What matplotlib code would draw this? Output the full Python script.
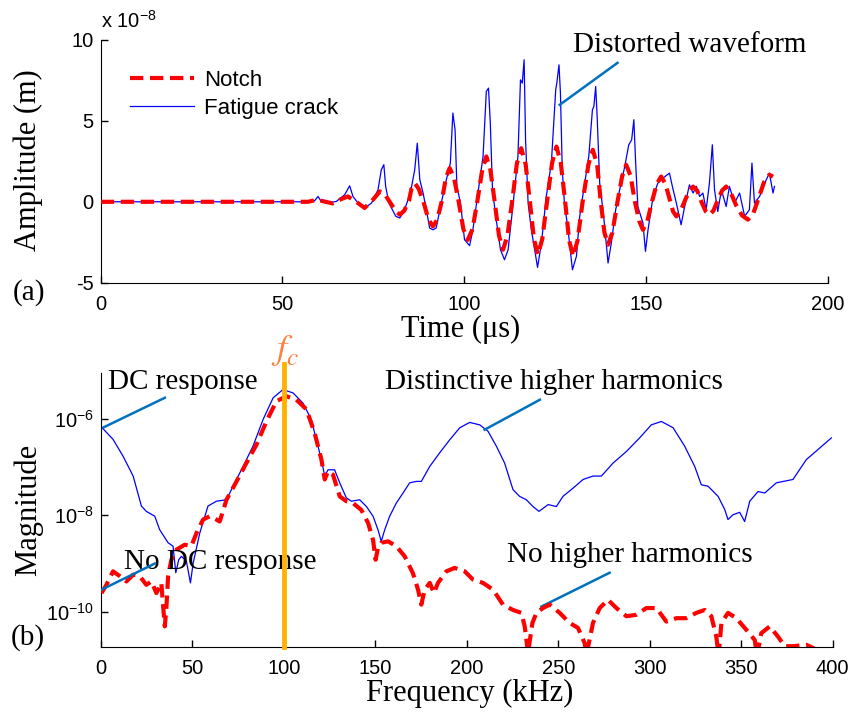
import matplotlib
matplotlib.use('Agg')
import matplotlib.pyplot as plt
import numpy as np

plt.rcParams['font.family'] = ['Liberation Sans', 'DejaVu Sans']
plt.rcParams['mathtext.default'] = 'regular'
plt.rcParams['axes.unicode_minus'] = False

# ---------------- (a) time signals (amplitude in units of 1e-8 m)
time_ticks = [0, 50, 100, 150, 200]
amp_ticks = [-5, 0, 5, 10]

notch_t = [0, 57.0, 59.5, 61.5, 63.8, 66.0, 68.0, 70.3, 72.6, 74.8,
           76.8, 78.2, 79.5, 81.1, 82.3, 83.5, 84.8, 85.5, 86.4, 87.5,
           88.8, 90.2, 91.4, 92.6, 93.8, 95.0, 96.0, 97.2, 98.5, 99.8,
           101.0, 102.3, 103.6, 105.0, 106.1, 107.2, 108.4, 109.6, 110.7, 111.9,
           113.2, 114.5, 115.7, 116.9, 118.1, 119.2, 120.3, 121.5, 122.8, 124.2,
           125.4, 126.6, 127.8, 128.9, 130.0, 131.2, 132.6, 134.2, 135.4, 136.6,
           137.6, 138.6, 139.6, 140.8, 142.2, 143.5, 144.6, 145.8, 147.0, 148.2,
           149.2, 150.4, 151.8, 153.0, 154.2, 155.4, 156.5, 157.5, 158.4, 159.5,
           160.8, 162.0, 163.0, 164.1, 165.3, 166.5, 167.5, 168.6, 169.8, 171.0,
           172.1, 173.3, 174.8, 176.5, 178.1, 179.6, 181.0, 182.5, 184.0, 185.0]
notch_amp = [0, 0, 0.12, 0.02, -0.1, 0.15, 0.33, 0.0, -0.38, 0.1,
             0.64, 0.45, 0.0, -0.55, -0.8, -0.55, 0.05, 0.8, 1.15, 0.8,
             0.0, -1.1, -1.52, -1.1, 0.0, 1.5, 2.08, 1.5, 0.0, -1.7,
             -2.35, -1.7, 0.0, 2.0, 2.8, 2.0, 0.0, -2.1, -2.96, -2.1,
             0.0, 2.35, 3.31, 2.35, 0.0, -2.3, -3.27, -2.3, 0.0, 2.4,
             3.41, 2.4, 0.0, -2.4, -3.37, -2.4, 0.0, 2.3, 3.21, 2.3,
             0.0, -1.9, -2.65, -1.9, 0.0, 1.6, 2.28, 1.6, 0.0, -1.2,
             -1.73, -1.2, 0.1, 1.1, 1.56, 1.1, 0.2, -0.6, -0.9, -0.6,
             0.1, 0.7, 0.94, 0.7, 0.0, -0.6, -0.8, -0.55, 0.1, 0.7,
             0.94, 0.6, -0.2, -0.85, -1.1, -0.7, 0.2, 1.2, 1.67, 1.55]

crack_t = [0, 57.5, 58.8, 59.8, 60.7, 62.1, 64.8, 67.1, 68.5, 69.4,
           70.8, 72.6, 74.5, 76.3, 77.2, 77.9, 78.4, 79.3, 81.2, 82.3,
           83.6, 85.2, 86.4, 87.1, 87.8, 88.7, 89.6, 90.5, 91.4, 92.3,
           93.7, 95.1, 96.2, 96.9, 97.5, 98.0, 99.0, 100.1, 101.5, 102.4,
           103.8, 105.2, 106.1, 106.7, 107.2, 107.8, 108.7, 110.0, 111.1, 112.1,
           113.4, 114.8, 115.5, 116.0, 116.5, 116.9, 117.6, 118.5, 120.2, 121.3,
           122.6, 124.0, 125.2, 125.5, 126.1, 126.5, 127.0, 127.6, 128.6, 129.8,
           130.9, 131.8, 132.9, 134.3, 135.3, 135.7, 136.2, 136.6, 137.3, 138.4,
           139.6, 140.5, 141.7, 142.8, 144.2, 145.3, 146.1, 146.7, 147.2, 147.8,
           149.2, 149.9, 150.6, 152.0, 153.3, 154.7, 156.5, 157.3, 158.4, 159.7,
           160.7, 162.0, 163.0, 163.9, 164.8, 165.7, 166.6, 167.5, 168.3, 168.9,
           169.8, 170.8, 172.1, 173.0, 174.4, 175.8, 177.2, 178.5, 179.2, 179.9,
           181.3, 182.7, 184.0, 185.0, 185.4]
crack_amp = [0, 0, 0.05, 0.33, 0.0, -0.08, 0.02, 0.43, 0.99, 0.33,
             -0.08, -0.39, -0.08, 0.74, 1.98, 2.29, 0.95, -0.08, -0.9, -1.0,
             -0.49, 0.54, 1.98, 3.62, 1.36, 0.54, -0.49, -1.62, -1.73, -1.62,
             -0.08, 1.36, 2.39, 5.48, 4.45, 0.95, -0.08, -2.34, -2.71, -1.73,
             0.54, 2.8, 6.81, 7.02, 4.86, 0.74, -0.9, -2.96, -3.58, -2.96,
             -0.29, 2.8, 7.53, 7.33, 8.77, 3.83, -0.08, -1.73, -4.05, -2.5,
             0.33, 2.39, 6.92, 7.33, 8.46, 6.71, 1.98, -0.08, -1.73, -4.2,
             -3.37, -0.9, 0.74, 2.8, 5.68, 5.89, 7.12, 5.27, 1.15, -0.9,
             -3.78, -2.55, -0.49, 0.74, 2.18, 3.52, 3.83, 5.07, 2.39, -0.29,
             -1.31, -3.06, -1.73, 0.33, 1.15, 1.46, 1.77, 0.95, -0.08, -1.42,
             -0.28, 1.05, 0.54, 0.95, 0.33, 0.54, -0.49, 1.15, 3.52, 0.74,
             -0.6, 0.74, -0.29, 0.95, -0.08, 0.54, -0.9, -0.49, 2.39, -0.08,
             0.33, 1.15, 1.77, 0.54, 0.95]

# ---------------- (b) spectra (log10 of magnitude)
freq_ticks = [0, 50, 100, 150, 200, 250, 300, 350, 400]
mag_ticks = [1e-10, 1e-8, 1e-6]
fc = 100

crack_f = [0, 6.7, 12.2, 17.7, 22.2, 24.9, 29.5, 32.2, 36.8, 39.5,
           41.0, 42.6, 44.1, 46.8, 49.0, 50.5, 54.1, 58.6, 63.2, 68.7,
           72.3, 77.8, 83.2, 88.7, 94.2, 99.6, 105.1, 110.5, 115.1, 117.8,
           120.6, 122.4, 124.2, 127.8, 130.6, 134.2, 137.0, 141.5, 145.2, 148.8,
           151.5, 153.3, 155.2, 157.9, 161.5, 165.2, 168.8, 172.5, 175.2, 179.8,
           185.2, 190.7, 196.2, 201.6, 207.1, 211.6, 216.2, 220.7, 225.3, 228.9,
           232.6, 236.2, 239.5, 244.5, 249.0, 252.6, 258.1, 263.6, 269.0, 273.6,
           280.0, 287.3, 294.5, 300.9, 306.4, 312.8, 319.1, 324.6, 328.2, 331.9,
           337.4, 341.0, 342.8, 345.5, 349.2, 351.9, 354.7, 359.2, 362.9, 369.2,
           378.3, 385.6, 392.9, 399.3]
crack_logmag = [-6.16, -6.43, -6.78, -7.19, -7.81, -7.92, -8.02, -8.30, -8.57, -8.64,
                -9.19, -8.92, -8.85, -8.95, -9.40, -8.99, -8.37, -7.81, -7.71, -7.68,
                -7.40, -6.99, -6.57, -6.02, -5.57, -5.40, -5.47, -5.68, -6.02, -6.44,
                -6.85, -7.19, -7.06, -7.06, -7.33, -7.64, -7.71, -7.68, -7.82, -8.02,
                -8.30, -8.54, -8.30, -8.02, -7.75, -7.54, -7.33, -7.30, -7.30, -6.99,
                -6.71, -6.44, -6.19, -6.08, -6.13, -6.26, -6.57, -6.92, -7.47, -7.61,
                -7.68, -7.82, -7.92, -7.78, -7.82, -7.61, -7.44, -7.26, -7.19, -7.19,
                -6.92, -6.68, -6.40, -6.13, -6.06, -6.19, -6.57, -6.99, -7.37, -7.40,
                -7.61, -7.88, -8.09, -7.99, -7.94, -8.13, -7.71, -7.51, -7.54, -7.33,
                -7.26, -6.85, -6.61, -6.40]

notch_f = [0.4, 3.1, 6.7, 10.4, 14.0, 17.7, 21.3, 24.9, 27.7, 30.4,
           33.1, 34.1, 35.0, 35.9, 36.8, 38.6, 41.4, 45.9, 49.5, 52.3,
           55.9, 59.6, 63.2, 65.0, 68.7, 74.2, 79.6, 85.1, 90.5, 96.0,
           101.5, 106.9, 112.4, 116.9, 120.6, 122.4, 124.2, 126.9, 130.6, 134.2,
           137.9, 142.4, 146.1, 148.8, 150.2, 151.5, 153.3, 157.0, 161.5, 166.1,
           170.6, 173.4, 175.2, 177.0, 179.8, 182.1, 184.3, 188.9, 193.4, 198.9,
           203.4, 208.9, 214.4, 219.8, 225.3, 229.9, 231.7, 233.5, 235.9, 238.1,
           241.7, 245.4, 250.8, 256.3, 260.8, 264.5, 265.4, 269.0, 272.7, 277.2,
           281.8, 287.3, 292.7, 298.2, 303.7, 309.1, 314.6, 320.0, 325.5, 330.1,
           333.7, 336.4, 337.7, 339.2, 342.8, 347.4, 352.8, 357.4, 358.7, 361.0,
           365.6, 370.1, 373.8, 378.3, 385.6, 391.1, 400.0]
notch_logmag = [-9.61, -9.44, -9.16, -9.26, -9.37, -9.23, -9.26, -9.44, -9.37, -9.61,
                -9.40, -9.89, -10.30, -9.89, -9.26, -8.92, -8.71, -8.61, -8.64, -8.37,
                -8.09, -8.02, -8.09, -8.13, -7.68, -7.30, -6.92, -6.54, -6.06, -5.64,
                -5.54, -5.61, -5.81, -6.30, -6.85, -7.26, -7.09, -7.16, -7.61, -7.71,
                -7.75, -7.89, -8.16, -8.51, -8.92, -8.68, -8.57, -8.54, -8.64, -8.85,
                -9.20, -9.54, -9.85, -9.54, -9.40, -9.61, -9.40, -9.16, -9.09, -9.16,
                -9.33, -9.40, -9.54, -9.85, -9.96, -10.02, -10.30, -10.85, -10.23, -10.02,
                -9.92, -9.85, -10.02, -10.23, -10.33, -10.65, -10.90, -10.23, -9.92, -9.75,
                -9.92, -10.09, -10.06, -9.92, -9.92, -10.20, -10.13, -10.13, -10.02, -9.96,
                -10.09, -10.51, -10.90, -10.23, -10.02, -10.13, -10.37, -10.58, -10.90, -10.44,
                -10.30, -10.51, -10.71, -10.71, -10.68, -10.78, -10.85]

RED = '#FF0000'
BLUE = '#0000FF'
NOTE = '#0072BD'
SERIF = 'Liberation Serif'
dash = (0, (3.2, 1.6))

fig = plt.figure(figsize=(8.54, 7.25), dpi=100)
ax1 = fig.add_axes([0.118, 0.610, 0.851, 0.335])
ax2 = fig.add_axes([0.118, 0.108, 0.857, 0.378])

for ax in (ax1, ax2):
    ax.spines['top'].set_visible(False)
    ax.spines['right'].set_visible(False)
    ax.tick_params(direction='in', length=5, width=1, labelsize=14.5)
    ax.tick_params(axis='x', pad=9)
    ax.tick_params(axis='y', pad=5)

# ---- (a)
ax1.plot(notch_t, notch_amp, color=RED, lw=3, ls=dash, label='Notch', zorder=3)
ax1.plot(crack_t, crack_amp, color=BLUE, lw=0.9, label='Fatigue crack', zorder=2)
ax1.set_xlim(0, 200)
ax1.set_ylim(-5, 10)
ax1.set_xticks(time_ticks)
ax1.set_yticks(amp_ticks)
ax1.legend(loc='upper left', bbox_to_anchor=(0.04, 0.875), frameon=False,
           fontsize=16, handlelength=2.9, handletextpad=0.45, labelspacing=0.3,
           borderaxespad=0, borderpad=0)
ax1.text(0.0, 1.08, r'x $10^{-8}$', transform=ax1.transAxes, fontsize=14.5,
         ha='left', va='center')
ax1.plot([126.3, 142.2], [5.99, 8.58], color=NOTE, lw=1.8)
ax1.text(162, 9.69, 'Distorted waveform', fontsize=21, family=SERIF,
         ha='center', va='center')

# ---- (b)
ax2.set_yscale('log')
ax2.plot(crack_f, 10 ** np.array(crack_logmag), color=BLUE, lw=0.9, zorder=2)
ax2.plot(notch_f, 10 ** np.array(notch_logmag), color=RED, lw=3, ls=dash, zorder=3)
ax2.set_xlim(0, 400)
ax2.set_ylim(10 ** -10.72, 10 ** -5.05)
ax2.set_xticks(freq_ticks)
ax2.set_yticks(mag_ticks)
ax2.yaxis.set_minor_locator(matplotlib.ticker.NullLocator())
ax2.plot([fc, fc], [10 ** -10.72, 10 ** -4.88], color='#FFB300', lw=3.5,
         clip_on=False, zorder=4)

ax2.plot([1.1, 35], [10 ** -6.19, 10 ** -5.57], color=NOTE, lw=1.8)
ax2.text(3.8, 10 ** -5.25, 'DC response', fontsize=21, family=SERIF, va='center')
ax2.plot([209.8, 240], [10 ** -6.23, 10 ** -5.61], color=NOTE, lw=1.8)
ax2.text(155.2, 10 ** -5.25, 'Distinctive higher harmonics', fontsize=21,
         family=SERIF, va='center')
ax2.plot([0.4, 29.5], [10 ** -9.54, 10 ** -9.0], color=NOTE, lw=1.8, zorder=5)
ax2.text(12.6, 10 ** -8.96, 'No DC response', fontsize=21, family=SERIF,
         va='center')
ax2.plot([240.8, 278.1], [10 ** -9.89, 10 ** -9.19], color=NOTE, lw=1.8)
ax2.text(221.9, 10 ** -8.82, 'No higher harmonics', fontsize=21, family=SERIF,
         va='center')

# ---- figure labels
fig.text(0.334, 0.517, r'$\mathit{f}_{\mathit{c}}$', color='#FF7F3F',
         fontsize=26, math_fontfamily='stix', ha='center', va='center')
fig.text(0.539, 0.545, 'Time (\u03bcs)', fontsize=22, family=SERIF,
         ha='center', va='center')
fig.text(0.55, 0.043, 'Frequency (kHz)', fontsize=22, family=SERIF,
         ha='center', va='center')
fig.text(0.033, 0.779, 'Amplitude (m)', fontsize=22, family=SERIF,
         rotation=90, ha='center', va='center')
fig.text(0.033, 0.297, 'Magnitude', fontsize=22, family=SERIF,
         rotation=90, ha='center', va='center')
fig.text(0.034, 0.597, '(a)', fontsize=21, family=SERIF, ha='center', va='center')
fig.text(0.033, 0.12, '(b)', fontsize=21, family=SERIF, ha='center', va='center')

fig.savefig('out.png', dpi=100)
